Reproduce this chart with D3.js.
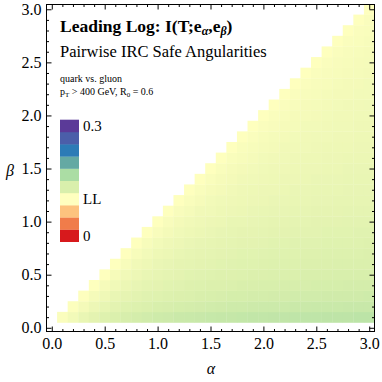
<!DOCTYPE html>
<html>
<head>
<meta charset="utf-8">
<script src="https://cdn.jsdelivr.net/npm/d3@7"></script>
<style>
  body { margin: 0; background: #fff; }
  text { font-family: "Liberation Serif", "DejaVu Serif", serif; fill: #000; }
</style>
</head>
<body>
<div id="chart"></div>
<script>
var svgWidth = 382;
var svgHeight = 382;

// grid of alpha / beta values (cell centres)
var alphaValues = [0.1,0.2,0.3,0.4,0.5,0.6,0.7,0.8,0.9,1.0,1.1,1.2,1.3,1.4,1.5,
                   1.6,1.7,1.8,1.9,2.0,2.1,2.2,2.3,2.4,2.5,2.6,2.7,2.8,2.9,3.0];
var betaValues = alphaValues.slice();

// mutual information, one row per beta, starting at alpha = beta
var miRows = [
  [0.104,0.111,0.119,0.124,0.129,0.132,0.135,0.137,0.139,0.141,0.142,0.144,0.145,0.146,0.147,0.148,0.148,0.149,0.150,0.150,0.151,0.151,0.152,0.152,0.152,0.153,0.153,0.153,0.154,0.154],
  [0.103,0.110,0.116,0.121,0.125,0.128,0.130,0.132,0.134,0.135,0.136,0.137,0.138,0.139,0.140,0.141,0.141,0.142,0.143,0.143,0.143,0.144,0.144,0.145,0.145,0.145,0.146,0.146,0.146],
  [0.102,0.109,0.114,0.119,0.122,0.125,0.127,0.128,0.130,0.131,0.132,0.133,0.134,0.135,0.136,0.136,0.137,0.137,0.138,0.138,0.139,0.139,0.139,0.140,0.140,0.140,0.140,0.141],
  [0.101,0.108,0.113,0.117,0.120,0.123,0.124,0.126,0.127,0.129,0.130,0.131,0.131,0.132,0.133,0.133,0.134,0.134,0.135,0.135,0.135,0.136,0.136,0.136,0.137,0.137,0.137],
  [0.101,0.108,0.112,0.116,0.119,0.121,0.123,0.124,0.126,0.127,0.128,0.129,0.129,0.130,0.131,0.131,0.132,0.132,0.132,0.133,0.133,0.133,0.134,0.134,0.134,0.134],
  [0.101,0.107,0.112,0.115,0.118,0.120,0.122,0.123,0.124,0.125,0.126,0.127,0.128,0.128,0.129,0.130,0.130,0.130,0.131,0.131,0.131,0.132,0.132,0.132,0.132],
  [0.101,0.107,0.111,0.115,0.117,0.119,0.121,0.122,0.123,0.124,0.125,0.126,0.126,0.127,0.128,0.128,0.128,0.129,0.129,0.130,0.130,0.130,0.130,0.131],
  [0.101,0.107,0.111,0.114,0.116,0.118,0.120,0.121,0.122,0.123,0.124,0.124,0.125,0.126,0.126,0.127,0.127,0.127,0.128,0.128,0.128,0.128,0.129],
  [0.101,0.106,0.110,0.113,0.115,0.117,0.118,0.120,0.121,0.122,0.122,0.123,0.124,0.124,0.125,0.125,0.125,0.126,0.126,0.126,0.127,0.127],
  [0.101,0.106,0.110,0.112,0.114,0.116,0.117,0.119,0.119,0.120,0.121,0.122,0.122,0.123,0.123,0.124,0.124,0.124,0.125,0.125,0.125],
  [0.101,0.106,0.109,0.112,0.113,0.115,0.116,0.117,0.118,0.119,0.120,0.120,0.121,0.121,0.122,0.122,0.122,0.123,0.123,0.123],
  [0.101,0.105,0.108,0.111,0.113,0.114,0.115,0.116,0.117,0.118,0.118,0.119,0.119,0.120,0.120,0.121,0.121,0.121,0.121],
  [0.101,0.105,0.108,0.110,0.112,0.114,0.115,0.116,0.116,0.117,0.118,0.118,0.119,0.119,0.119,0.120,0.120,0.120],
  [0.101,0.105,0.108,0.110,0.112,0.113,0.114,0.115,0.116,0.116,0.117,0.118,0.118,0.118,0.119,0.119,0.119],
  [0.101,0.105,0.108,0.110,0.111,0.113,0.114,0.114,0.115,0.116,0.116,0.117,0.117,0.118,0.118,0.118],
  [0.101,0.105,0.107,0.109,0.111,0.112,0.113,0.114,0.115,0.115,0.116,0.116,0.117,0.117,0.117],
  [0.101,0.105,0.107,0.109,0.110,0.112,0.112,0.113,0.114,0.115,0.115,0.115,0.116,0.116],
  [0.101,0.104,0.107,0.109,0.110,0.111,0.112,0.113,0.113,0.114,0.114,0.115,0.115],
  [0.101,0.104,0.106,0.108,0.109,0.111,0.111,0.112,0.113,0.113,0.114,0.114],
  [0.101,0.104,0.106,0.108,0.109,0.110,0.111,0.112,0.112,0.113,0.113],
  [0.101,0.104,0.106,0.108,0.109,0.110,0.111,0.112,0.112,0.113],
  [0.101,0.104,0.106,0.107,0.109,0.110,0.110,0.111,0.111],
  [0.101,0.104,0.106,0.107,0.109,0.110,0.110,0.111],
  [0.101,0.104,0.106,0.107,0.108,0.109,0.110],
  [0.101,0.104,0.106,0.107,0.108,0.109],
  [0.101,0.104,0.106,0.107,0.108],
  [0.101,0.104,0.105,0.107],
  [0.101,0.104,0.105],
  [0.101,0.104],
  [0.101]
];

// legend swatches, bottom (0) to top (0.3)
var legendColors = ["#d7191c","#f07c4a","#fdc37e","#ffffbf","#d9efac",
                    "#abdda4","#64a9a3","#2c7bb6","#4b5ea9","#5b3a98"];
var legendLabels = [{i: 0, t: "0"}, {i: 3, t: "LL"}, {i: 9, t: "0.3"}];
var axisTicks = [0.0, 0.5, 1.0, 1.5, 2.0, 2.5, 3.0];

// flatten rows into cells
var cells = [];
miRows.forEach(function(row, j) {
  row.forEach(function(v, k) {
    cells.push({alpha: alphaValues[j + k], beta: betaValues[j], mi: v});
  });
});

var svg = d3.select("#chart")
  .append("svg")
  .attr("width", svgWidth)
  .attr("height", svgHeight);

var xScale = d3.scaleLinear().domain([-0.05, 3.05]).range([46.5, 374.5]);
var yScale = d3.scaleLinear().domain([-0.035, 3.045]).range([331.5, 4.5]);

var colorScale = d3.scaleLinear()
  .domain(legendColors.map(function(c, i) { return i * 0.3 / 9; }))
  .range(legendColors)
  .clamp(true);

svg.append("clipPath").attr("id", "frameClip")
  .append("rect")
  .attr("x", 46.5).attr("y", 4.5)
  .attr("width", 328).attr("height", 327);

// heat map cells
svg.append("g")
  .attr("clip-path", "url(#frameClip)")
  .selectAll("rect")
  .data(cells)
  .enter()
  .append("rect")
  .attr("x", d => xScale(d.alpha - 0.05))
  .attr("y", d => yScale(d.beta + 0.05))
  .attr("width", d => xScale(d.alpha + 0.05) - xScale(d.alpha - 0.05) + 0.3)
  .attr("height", d => yScale(d.beta - 0.05) - yScale(d.beta + 0.05) + 0.3)
  .attr("fill", d => colorScale(d.mi));

// Axes: majors with labels, minors without, all inward
var minorTicks = d3.range(31).map(i => i / 10).filter(v => Math.round(v * 10) % 5 !== 0);

function addAxis(axisFn, scale, transform, values, size, labels, pad) {
  var g = svg.append("g")
    .attr("transform", transform)
    .call(axisFn(scale)
      .tickValues(values)
      .tickSizeInner(-size)
      .tickSizeOuter(0)
      .tickPadding(pad)
      .tickFormat(labels ? d3.format(".1f") : ""));
  g.select(".domain").remove();
  g.selectAll("line").attr("stroke", "#000");
  g.selectAll("text")
    .style("font-family", "Liberation Serif")
    .style("font-size", "16px");
  return g;
}

addAxis(d3.axisBottom, xScale, "translate(0,331.5)", axisTicks, 5, true, 6);
addAxis(d3.axisBottom, xScale, "translate(0,331.5)", minorTicks, 2.5, false, 6);
addAxis(d3.axisTop, xScale, "translate(0,4.5)", axisTicks, 5, false, 6);
addAxis(d3.axisTop, xScale, "translate(0,4.5)", minorTicks, 2.5, false, 6);
addAxis(d3.axisLeft, yScale, "translate(46.5,0)", axisTicks, 5, true, 5);
addAxis(d3.axisLeft, yScale, "translate(46.5,0)", minorTicks, 2.5, false, 5);
addAxis(d3.axisRight, yScale, "translate(374.5,0)", axisTicks, 5, false, 5);
addAxis(d3.axisRight, yScale, "translate(374.5,0)", minorTicks, 2.5, false, 5);

// frame
svg.append("rect")
  .attr("x", 46.5).attr("y", 4.5)
  .attr("width", 328).attr("height", 327)
  .attr("fill", "none")
  .attr("stroke", "#000")
  .attr("stroke-width", 1);

// axis labels
svg.append("text")
  .attr("x", 211).attr("y", 374)
  .attr("text-anchor", "middle")
  .style("font-style", "italic")
  .style("font-size", "16px")
  .text("α");

svg.append("text")
  .attr("x", 10).attr("y", 176)
  .attr("text-anchor", "middle")
  .style("font-style", "italic")
  .style("font-size", "16px")
  .text("β");

// title block
var title = svg.append("text")
  .attr("x", 60).attr("y", 32)
  .style("font-weight", "bold")
  .style("font-size", "17.5px");
title.append("tspan").text("Leading Log: I(T;e");
title.append("tspan").attr("dy", 3).style("font-size", "12px").style("font-style", "italic").text("α");
title.append("tspan").attr("dy", -3).text(",e");
title.append("tspan").attr("dy", 3).style("font-size", "12px").style("font-style", "italic").text("β");
title.append("tspan").attr("dy", -3).text(")");

svg.append("text")
  .attr("x", 60).attr("y", 57)
  .style("font-size", "16.5px")
  .text("Pairwise IRC Safe Angularities");

svg.append("text")
  .attr("x", 60).attr("y", 82)
  .style("font-size", "10px")
  .text("quark vs. gluon");

var cuts = svg.append("text")
  .attr("x", 60).attr("y", 95)
  .style("font-size", "10px");
cuts.append("tspan").text("p");
cuts.append("tspan").attr("dy", 2).style("font-size", "7px").text("T");
cuts.append("tspan").attr("dy", -2).text(" > 400 GeV, R");
cuts.append("tspan").attr("dy", 2).style("font-size", "7px").text("0");
cuts.append("tspan").attr("dy", -2).text(" = 0.6");

// legend
var swatchH = 12.2;
var legendBottom = 241.7;
var legend = svg.append("g");
legend.selectAll("rect")
  .data(legendColors)
  .enter()
  .append("rect")
  .attr("x", 60)
  .attr("y", (d, i) => legendBottom - (i + 1) * swatchH)
  .attr("width", 19)
  .attr("height", swatchH + 0.3)
  .attr("fill", d => d);

legend.selectAll("text")
  .data(legendLabels)
  .enter()
  .append("text")
  .attr("x", 83)
  .attr("y", d => legendBottom - (d.i + 0.5) * swatchH)
  .attr("dy", "0.35em")
  .style("font-size", "15px")
  .text(d => d.t);
</script>
</body>
</html>
